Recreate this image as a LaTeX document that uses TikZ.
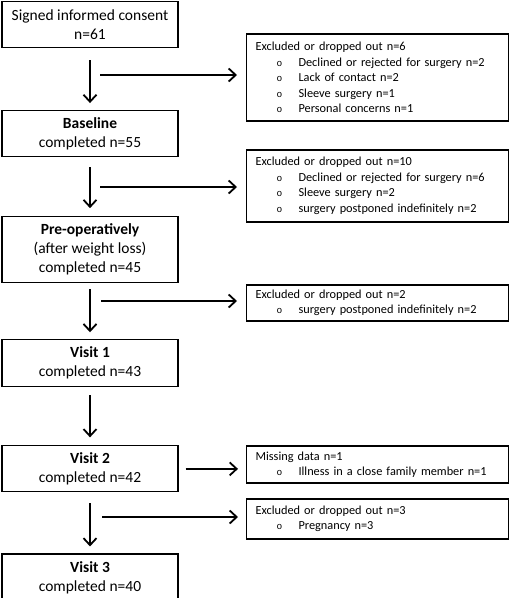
\documentclass[tikz,border=0pt]{standalone}
\usepackage{fontspec}
\setmainfont{Carlito}
\newfontfamily\bulletfont{Liberation Mono}
\usetikzlibrary{arrows.meta, positioning}
\newcommand{\exitem}[1]{\\\hspace*{21pt}\makebox[22pt][l]{\bulletfont\fontsize{9.5}{9}\selectfont o}#1}

\begin{document}
\begin{tikzpicture}[x=1pt, y=-1pt,
        stage/.style={draw, line width=1.1pt, minimum width=176pt,
                      minimum height=46pt, inner sep=2pt,
                      align=center, font=\fontsize{15.5}{19}\selectfont},
        side/.style={draw, line width=1.1pt, text width=244pt,
                     inner xsep=9pt, anchor=west, align=left,
                     font=\fontsize{12.3}{15.5}\selectfont},
        arr/.style={-{Straight Barb[length=7pt,width=13pt]}, line width=1.8pt}
      ]
        \useasboundingbox (0,0) rectangle (511,598);
        % study stages
        \node[stage] (consent) at (90,24.5) {Signed informed consent\\n=61};
        \node[stage, below=62pt of consent] (base)
              {\textbf{Baseline}\\completed n=55};
        \node[stage, minimum height=66pt, below=59pt of base] (preop)
              {\textbf{Pre-operatively}\\(after weight loss)\\completed n=45};
        \node[stage, minimum height=47pt, below=56pt of preop] (v1)
              {\textbf{Visit 1}\\completed n=43};
        \node[stage, below=58pt of v1] (v2)
              {\textbf{Visit 2}\\completed n=42};
        \node[stage, minimum height=48pt, below=61pt of v2] (v3)
              {\textbf{Visit 3}\\completed n=40};
        % losses
        \node[side, minimum height=87pt] (out1) at (246,77.5)
              {Excluded or dropped out n=6
               \exitem{Declined or rejected for surgery n=2}
               \exitem{Lack of contact n=2}
               \exitem{Sleeve surgery n=1}
               \exitem{Personal concerns n=1}};
        \node[side, minimum height=72pt] (out2) at (246,186)
              {Excluded or dropped out n=10
               \exitem{Declined or rejected for surgery n=6}
               \exitem{Sleeve surgery n=2}
               \exitem{surgery postponed indefinitely n=2}};
        \node[side, minimum height=36pt] (out3) at (246,303)
              {Excluded or dropped out n=2
               \exitem{surgery postponed indefinitely n=2}};
        \node[side, minimum height=37pt] (miss) at (246,464.5)
              {Missing data n=1
               \exitem{Illness in a close family member n=1}};
        \node[side, minimum height=40pt] (out5) at (246,519)
              {Excluded or dropped out n=3
               \exitem{Pregnancy n=3}};
        % flow
        \draw[arr] ([yshift=-12pt]consent.south) -- ([yshift=7pt]base.north);
        \draw[arr] ([yshift=-10pt]base.south) -- ([yshift=8pt]preop.north);
        \draw[arr] ([yshift=-6pt]preop.south) -- ([yshift=7pt]v1.north);
        \draw[arr] ([yshift=-8pt]v1.south) -- ([yshift=8pt]v2.north);
        \draw[arr] ([yshift=-11pt]v2.south) -- ([yshift=7pt]v3.north);
        \coordinate (c1) at (100,75);
        \coordinate (c2) at (100,187);
        \coordinate (c3) at (101,301);
        \coordinate (c4) at ([xshift=7pt]v2.east);
        \coordinate (c5) at (102,517);
        \draw[arr, shorten >=9pt] (c1) -- (c1 -| out1.west);
        \draw[arr, shorten >=9pt] (c2) -- (c2 -| out2.west);
        \draw[arr, shorten >=9pt] (c3) -- (c3 -| out3.west);
        \draw[arr, shorten >=8pt] (c4) -- (c4 -| miss.west);
        \draw[arr, shorten >=8pt] (c5) -- (c5 -| out5.west);
      \end{tikzpicture}
\end{document}
